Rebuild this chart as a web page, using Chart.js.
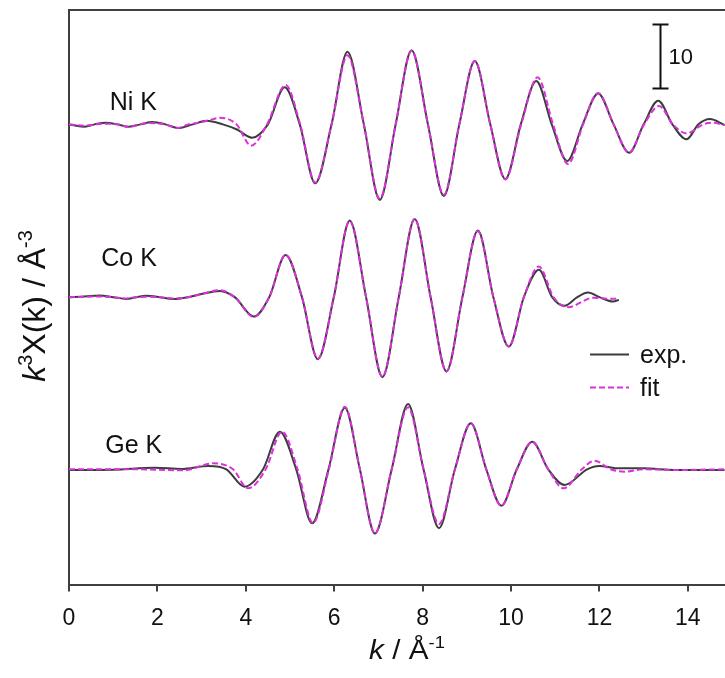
<!DOCTYPE html>
<html>
<head>
<meta charset="utf-8">
<script src="https://cdn.jsdelivr.net/npm/chart.js@4.4.0/dist/chart.umd.min.js"></script>
<style>
  html, body { margin: 0; padding: 0; background: #fff; }
  #wrap { width: 725px; height: 678px; }
</style>
</head>
<body>
<div id="wrap"><canvas id="exafsChart" width="725" height="678"></canvas></div>
<script>
// k^3-weighted EXAFS, three edges stacked with vertical offsets

const kTicks = [0, 2, 4, 6, 8, 10, 12, 14];
const edgeNames = ["Ni K", "Co K", "Ge K"];
const legendNames = ["exp.", "fit"];
const scaleBarSize = 10;

// baseline of each edge on the shared y scale
const niOffset = 71.9;
const coOffset = 44.9;
const geOffset = 18;

// Ni K
const niK_exp = [0, 0.32, 0.58, 0.83, 1.1, 1.35, 1.62, 1.88, 2.18, 2.47, 2.8, 3.11, 3.48, 3.8, 4.14, 4.5, 4.88, 5.22, 5.57, 5.94, 6.30, 6.67, 7.03, 7.39, 7.75, 8.12, 8.48, 8.83, 9.18, 9.53, 9.87, 10.22, 10.57, 10.92, 11.27, 11.62, 11.97, 12.32, 12.67, 13.0, 13.33, 13.65, 13.97, 14.24, 14.5, 14.83];
const niChi_exp = [0, -0.37, 0, 0.25, 0, -0.37, 0, 0.36, 0, -0.58, 0, 0.56, 0, -0.8, -2.09, 0, 5.78, 0, -9.22, 0, 11.35, 0, -11.8, 0, 11.6, 0, -11.2, 0, 9.89, 0, -8.55, 0, 6.77, 0, -5.73, 0, 4.84, 0, -4.44, 0, 3.69, 0, -2.34, 0, 0.83, -0.1];
const niK_fit = [0, 0.35, 0.6, 0.85, 1.1, 1.35, 1.6, 1.85, 2.15, 2.47, 2.7, 2.9, 3.15, 3.41, 3.79, 4.12, 4.48, 4.90, 5.23, 5.57, 5.94, 6.30, 6.67, 7.03, 7.39, 7.75, 8.12, 8.48, 8.83, 9.18, 9.53, 9.87, 10.23, 10.60, 10.95, 11.29, 11.63, 11.97, 12.32, 12.67, 13.01, 13.35, 13.66, 13.97, 14.35, 14.55, 14.83];
const niChi_fit = [0, -0.2, 0, 0.1, 0, -0.4, 0, 0.2, 0, -0.55, 0, 0.2, 0.6, 1.03, 0, -3.34, 0, 6.14, 0, -9.1, 0, 10.8, 0, -11.6, 0, 11.5, 0, -11.0, 0, 9.9, 0, -8.6, 0, 7.35, 0, -6.2, 0, 4.9, 0, -4.4, 0, 2.87, 0, -1.41, 0, 0.25, -0.1];

// Co K
const coK_exp = [0, 0.35, 0.69, 1.0, 1.30, 1.52, 1.75, 2.05, 2.35, 2.7, 3.0, 3.41, 3.75, 4.18, 4.53, 4.90, 5.27, 5.63, 5.99, 6.35, 6.72, 7.09, 7.46, 7.82, 8.18, 8.54, 8.90, 9.25, 9.60, 9.95, 10.29, 10.63, 10.93, 11.21, 11.5, 11.74, 12.0, 12.31, 12.44];
const coChi_exp = [0, 0.1, 0.25, 0, -0.27, 0, 0.2, 0, -0.3, 0, 0.5, 0.98, 0, -3.03, 0, 6.6, 0, -9.69, 0, 11.97, 0, -12.5, 0, 12.23, 0, -11.6, 0, 10.4, 0, -7.72, 0, 4.27, 0, -1.36, 0, 0.72, 0, -0.68, -0.42];
const coK_fit = [0, 0.69, 1.0, 1.30, 1.52, 1.75, 2.05, 2.35, 2.7, 3.0, 3.41, 3.75, 4.18, 4.53, 4.90, 5.27, 5.63, 5.99, 6.35, 6.72, 7.09, 7.46, 7.82, 8.18, 8.54, 8.90, 9.25, 9.60, 9.95, 10.29, 10.63, 10.96, 11.29, 11.86, 12.16, 12.44];
const coChi_fit = [0, 0.1, 0, -0.2, 0, 0.05, 0, -0.2, 0, 0.5, 1.1, 0, -3.1, 0, 6.6, 0, -9.6, 0, 11.9, 0, -12.4, 0, 12.2, 0, -11.6, 0, 10.3, 0, -7.7, 0, 4.8, 0, -1.56, -0.1, -0.25, -0.27];

// Ge K
const geK_exp = [0, 1.0, 1.94, 2.54, 3.15, 3.56, 3.97, 4.39, 4.77, 5.14, 5.5, 5.87, 6.24, 6.58, 6.92, 7.3, 7.67, 8.02, 8.37, 8.73, 9.09, 9.44, 9.78, 10.13, 10.48, 10.84, 11.21, 11.72, 12.0, 12.45, 12.98, 13.73, 14.83];
const geChi_exp = [-0.1, -0.05, 0.25, 0.05, 0.52, 0, -2.72, 0, 5.88, 0, -8.44, 0, 9.63, 0, -10.05, 0, 10.2, 0, -9.2, 0, 7.19, 0, -5.68, 0, 4.31, 0, -2.45, 0, 0.52, 0.15, 0.15, -0.1, -0.1];
const geK_fit = [0, 1.5, 2.6, 3.26, 3.71, 4.05, 4.45, 4.82, 5.17, 5.52, 5.88, 6.24, 6.58, 6.92, 7.3, 7.67, 8.02, 8.37, 8.73, 9.09, 9.44, 9.78, 10.13, 10.48, 10.84, 11.19, 11.6, 11.89, 12.25, 12.57, 12.99, 13.73, 14.83];
const geChi_fit = [0, 0, -0.15, 0.94, 0, -2.97, 0, 5.9, 0, -8.4, 0, 9.78, 0, -10.0, 0, 9.7, 0, -8.55, 0, 7.2, 0, -5.7, 0, 4.3, 0, -2.97, 0, 1.35, 0, -0.37, 0, -0.1, 0];

const FONT = "'Liberation Sans', Arial, Helvetica, sans-serif";
const axisColor = "#404040";
const expColor = "#3c3c3c";
const fitColor = "#dc30dc";

function toPoints(ks, chi, off) {
    return ks.map((k, i) => ({ x: k, y: chi[i] + off }));
}

function series(label, ks, chi, off, isFit) {
    return {
        label: label,
        data: toPoints(ks, chi, off),
        borderColor: isFit ? fitColor : expColor,
        borderWidth: 2,
        borderDash: isFit ? [6, 3] : [],
        pointRadius: 0,
        cubicInterpolationMode: "monotone",
        fill: false,
        order: isFit ? 0 : 1
    };
}

// text with italic / superscript runs, centred on (0,0) of the current transform
function richText(ctx, parts, size) {
    const fontOf = p => (p.italic ? "italic " : "") + (p.sup ? size * 0.62 : size) + "px " + FONT;
    let total = 0;
    parts.forEach(p => { ctx.font = fontOf(p); total += ctx.measureText(p.t).width; });
    let xx = -total / 2;
    ctx.textAlign = "left";
    ctx.textBaseline = "alphabetic";
    parts.forEach(p => {
        ctx.font = fontOf(p);
        ctx.fillText(p.t, xx, p.sup ? -size * 0.4 : 0);
        xx += ctx.measureText(p.t).width;
    });
}

const annotate = {
    id: "annotate",
    afterDraw(chart) {
        const { ctx, chartArea: a, scales: { x, y } } = chart;
        ctx.save();

        // top frame line
        ctx.strokeStyle = axisColor;
        ctx.lineWidth = 2;
        ctx.beginPath();
        ctx.moveTo(a.left - 1, a.top);
        ctx.lineTo(a.right, a.top);
        ctx.stroke();

        // edge names above each trace
        const namePos = [[0.92, niOffset + 2.2], [0.73, coOffset + 4.8], [0.82, geOffset + 2.5]];
        ctx.fillStyle = "#111";
        ctx.font = "25px " + FONT;
        ctx.textAlign = "left";
        ctx.textBaseline = "alphabetic";
        edgeNames.forEach((n, i) => {
            ctx.fillText(n, x.getPixelForValue(namePos[i][0]), y.getPixelForValue(namePos[i][1]));
        });

        // scale bar
        const bx = Math.round(x.getPixelForValue(13.36)) + 0.5;
        const yb = y.getPixelForValue(77.5);
        const yt = y.getPixelForValue(77.5 + scaleBarSize);
        ctx.strokeStyle = "#111";
        ctx.lineWidth = 2;
        ctx.beginPath();
        ctx.moveTo(bx, yt); ctx.lineTo(bx, yb);
        ctx.moveTo(bx - 8, yt); ctx.lineTo(bx + 8, yt);
        ctx.moveTo(bx - 8, yb); ctx.lineTo(bx + 8, yb);
        ctx.stroke();
        ctx.font = "22px " + FONT;
        ctx.textBaseline = "middle";
        ctx.fillText(String(scaleBarSize), bx + 8, (yt + yb) / 2 + 1);

        // legend
        const lx = a.right - 135;
        const rows = [354.5, 387.5];
        ctx.textBaseline = "alphabetic";
        ctx.font = "25px " + FONT;
        legendNames.forEach((n, i) => {
            ctx.strokeStyle = i ? fitColor : expColor;
            ctx.setLineDash(i ? [6, 3] : []);
            ctx.beginPath();
            ctx.moveTo(lx, rows[i]);
            ctx.lineTo(lx + 39, rows[i]);
            ctx.stroke();
            ctx.setLineDash([]);
            ctx.fillStyle = "#111";
            ctx.fillText(n, lx + 50, rows[i] + 8.5);
        });

        // axis titles
        ctx.fillStyle = "#111";
        ctx.save();
        ctx.translate(407, 659);
        ctx.scale(1.1, 1);
        richText(ctx, [{ t: "k", italic: true }, { t: " / Å" }, { t: "-1", sup: true }], 27);
        ctx.restore();

        ctx.save();
        ctx.translate(45, 306);
        ctx.rotate(-Math.PI / 2);
        richText(ctx, [{ t: "k", italic: true }, { t: "3", sup: true }, { t: "X(k) / Å" }, { t: "-3", sup: true }], 32);
        ctx.restore();

        ctx.restore();
    }
};

new Chart(document.getElementById("exafsChart"), {
    type: "line",
    data: {
        datasets: [
            series("Ni exp", niK_exp, niChi_exp, niOffset, false),
            series("Ni fit", niK_fit, niChi_fit, niOffset, true),
            series("Co exp", coK_exp, coChi_exp, coOffset, false),
            series("Co fit", coK_fit, coChi_fit, coOffset, true),
            series("Ge exp", geK_exp, geChi_exp, geOffset, false),
            series("Ge fit", geK_fit, geChi_fit, geOffset, true)
        ]
    },
    options: {
        responsive: false,
        animation: false,
        devicePixelRatio: 1,
        layout: { padding: { top: 10, left: 0, right: 0, bottom: 0 } },
        plugins: {
            legend: { display: false },
            tooltip: { enabled: false }
        },
        scales: {
            x: {
                type: "linear",
                min: 0,
                max: 14.84,
                afterBuildTicks: s => { s.ticks = kTicks.map(v => ({ value: v })); },
                afterFit: s => { s.height = 93.5; },
                grid: { drawOnChartArea: false, drawTicks: true, tickLength: 7, color: axisColor, lineWidth: 2 },
                border: { color: axisColor, width: 2 },
                ticks: { font: { family: FONT, size: 23 }, color: "#111", padding: 13, maxRotation: 0 }
            },
            y: {
                type: "linear",
                min: 0,
                max: 89.77,
                afterFit: s => { s.width = 69; },
                ticks: { display: false },
                grid: { drawOnChartArea: false, drawTicks: false },
                border: { color: axisColor, width: 2 }
            }
        }
    },
    plugins: [annotate]
});
</script>
</body>
</html>
